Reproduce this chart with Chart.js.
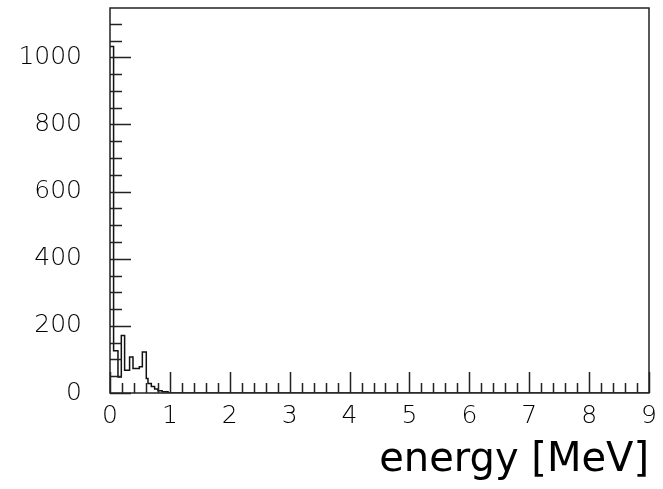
<!DOCTYPE html>
<html>
<head>
<meta charset="utf-8">
<script src="https://cdn.jsdelivr.net/npm/chart.js@4/dist/chart.umd.min.js"></script>
<style>
  html, body { margin: 0; padding: 0; background: #fff; }
  #wrap { width: 663px; height: 489px; }
</style>
</head>
<body>
<div id="wrap"><canvas id="myChart" width="663" height="489"></canvas></div>
<script>
// Histogram bin edges (MeV)
const binEdges = [0, 0.06, 0.133, 0.189, 0.244, 0.327, 0.384, 0.49, 0.54, 0.606, 0.634, 0.69, 0.745, 0.80, 0.87, 0.97];

// Entries in each bin (one less than the edges)
const binCounts = [1032, 126, 48, 171, 68, 107, 73, 78, 122, 43, 28, 19, 12, 7, 4];

// Labelled ticks
const xTickValues = [0, 1, 2, 3, 4, 5, 6, 7, 8, 9];
const yTickValues = [0, 200, 400, 600, 800, 1000];

// Axis ranges
const xMin = 0, xMax = 9;
const yMin = 0, yMax = 1147;

// Step histogram points: one point per bin (value held until the next edge),
// then down to zero after the last bin
const histPoints = [];
for (let i = 0; i < binCounts.length; i++) {
    histPoints.push({ x: binEdges[i], y: binCounts[i] });
}
histPoints.push({ x: binEdges[binEdges.length - 1], y: 0 });
histPoints.push({ x: xMax, y: 0 });

const frameColor = '#222';

// ROOT style frame with the tick marks pointing into the plot
const rootFrame = {
    id: 'rootFrame',
    afterDraw(chart) {
        const ctx = chart.ctx;
        const area = chart.chartArea;
        const xs = chart.scales.x;
        const ys = chart.scales.y;
        ctx.save();
        ctx.strokeStyle = frameColor;
        ctx.lineWidth = 1.5;
        ctx.strokeRect(area.left, area.top, area.right - area.left, area.bottom - area.top);

        ctx.beginPath();
        // x ticks: minor every 0.2, long at the integers
        for (let k = 0; k <= 45; k++) {
            const v = k * 0.2;
            const px = Math.round(xs.getPixelForValue(v)) + 0.5;
            const len = (k % 5 === 0) ? 21 : 10;
            ctx.moveTo(px, area.bottom);
            ctx.lineTo(px, area.bottom - len);
        }
        // y ticks: minor every 50, long at the labelled ones
        for (let k = 0; k * 50 <= yMax; k++) {
            const v = k * 50;
            const py = Math.round(ys.getPixelForValue(v)) + 0.5;
            const len = (k % 4 === 0) ? 21 : 12;
            ctx.moveTo(area.left, py);
            ctx.lineTo(area.left + len, py);
        }
        ctx.stroke();
        ctx.restore();
    }
};

const tickFont = { family: 'DejaVu Sans', size: 25, weight: 200 };

new Chart(document.getElementById('myChart'), {
    type: 'line',
    data: {
        datasets: [{
            data: histPoints,
            // 'before' keeps each y until the next x, like a histogram
            stepped: 'before',
            borderColor: '#111',
            borderWidth: 1.5,
            pointRadius: 0,
            fill: false
        }]
    },
    options: {
        responsive: false,
        animation: false,
        layout: { padding: { top: 8, right: 14, left: 0, bottom: 0 } },
        plugins: {
            legend: { display: false },
            tooltip: { enabled: false }
        },
        scales: {
            x: {
                type: 'linear',
                min: xMin,
                max: xMax,
                afterBuildTicks: (scale) => {
                    scale.ticks = xTickValues.map(v => ({ value: v }));
                },
                afterFit: (scale) => {
                    scale.height = 96;
                    scale.paddingLeft = 0;
                    scale.paddingRight = 0;
                },
                grid: { display: false, drawTicks: false },
                border: { display: false },
                ticks: {
                    color: '#000',
                    font: tickFont,
                    padding: 8,
                    maxRotation: 0,
                    autoSkip: false,
                    callback: (v) => String(v)
                },
                title: {
                    display: true,
                    text: 'energy [MeV]',
                    align: 'end',
                    color: '#000',
                    font: { family: 'DejaVu Sans', size: 40 },
                    padding: { top: 0, bottom: 4 }
                }
            },
            y: {
                type: 'linear',
                min: yMin,
                max: yMax,
                afterBuildTicks: (scale) => {
                    scale.ticks = yTickValues.map(v => ({ value: v }));
                },
                afterFit: (scale) => {
                    scale.width = 110;
                    scale.paddingTop = 0;
                    scale.paddingBottom = 0;
                },
                grid: { display: false, drawTicks: false },
                border: { display: false },
                ticks: {
                    color: '#000',
                    font: tickFont,
                    padding: 28,
                    callback: (v) => String(v)
                }
            }
        }
    },
    plugins: [rootFrame]
});
</script>
</body>
</html>
